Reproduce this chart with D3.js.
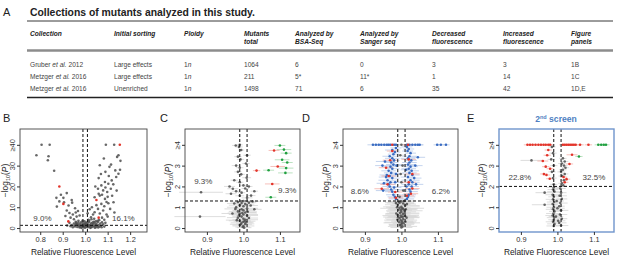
<!DOCTYPE html>
<html>
<head>
<meta charset="utf-8">
<script src="https://cdn.jsdelivr.net/npm/d3@7"></script>
<style>
  body { margin: 0; background: #fff; }
  svg { font-family: "Liberation Sans", Arial, sans-serif; }
  .hdr { font-size: 6.6px; font-weight: bold; font-style: italic; fill: #222; }
  .cell { font-size: 6.6px; fill: #444; }
  .tick text { font-size: 7.4px; fill: #333; }
  .tick line { stroke: #333; }
  .domain { display: none; }
  .pct { font-size: 8px; fill: #444; }
</style>
</head>
<body>
<script>
// TABLE DATA
const tableHeaders = [["Collection"], ["Initial sorting"], ["Ploidy"], ["Mutants", "total"],
  ["Analyzed by", "BSA-Seq"], ["Analyzed by", "Sanger seq"], ["Decreased", "fluorescence"],
  ["Increased", "fluorescence"], ["Figure", "panels"]]
const tableRows = [
  [["Gruber", "2012"], "Large effects", "1", "1064", "6", "0", "3", "3", "1B"],
  [["Metzger", "2016"], "Large effects", "1", "211", "5*", "11*", "1", "14", "1C"],
  [["Metzger", "2016"], "Unenriched", "1", "1498", "71", "6", "35", "42", "1D,E"]
]

// PANEL DATA  [relative fluorescence, -log10(P), half width of error bar]
const bGray = [[0.806,40],[0.842,40],[1.092,40],[1.129,40],
  [0.783,35],[0.837,34.5],[0.834,32.6],[0.862,27.5],[0.872,14.5],[0.892,16],[0.903,14.5],[0.918,16.8],
  [0.885,12.8],[0.906,12.4],[0.874,10.3],[0.94,13.5],[0.926,10.8],[0.942,12.2],[0.918,8.4],[0.955,9.5],
  [0.93,7.2],[0.945,6.5],[0.958,7.5],[0.935,5],[0.95,4.2],[0.912,5.8],[0.962,5.5],[0.968,8.2],[0.97,3.5],
  [0.96,2.5],[0.975,6],
  [1.083,33.4],[1.065,30.2],[1.108,29.4],[1.142,34.2],[1.157,32.3],[1.148,35],[1.134,27.7],[1.148,26.1],
  [1.138,24.5],[1.118,22.9],[1.103,21.3],[1.088,22.1],[1.072,20.5],[1.057,18.9],[1.08,18.1],[1.098,17.3],
  [1.114,18.9],[1.065,15.6],[1.042,14.8],[1.088,14],[1.072,11.6],[1.103,11.9],[1.126,12.4],[1.057,9.2],
  [1.08,8.4],[1.111,9.2],[1.042,7.6],[1.095,6.5],[1.026,5.2],[1.011,7.1],[1.03,10],[1.05,11],[1.06,16.5],
  [1.075,16],[1.09,19.5],[1.1,15],[1.12,15.5],[1.085,10.5],[1.095,12.5],[1.065,7],[1.075,5],[1.085,4],
  [1.1,5.5],[1.04,4.5],[1.055,3.5],[1.035,6.5],[1.02,9],[1.015,4],[1.13,7.5],[1.045,20],[1.06,24],
  [1.07,26],[1.115,30.5],[1.125,21],[1.14,18],[1.155,28],[1.105,25],[1.09,27],
  [0.94,1.5],[0.95,2.2],[0.955,0.8],[0.96,1.8],[0.965,0.5],[0.97,2.6],[0.972,1.2],[0.975,0.3],[0.978,1.9],
  [0.98,0.9],[0.982,2.8],[0.985,0.4],[0.987,1.5],[0.99,2.3],[0.992,0.7],[0.995,1.1],[0.997,3.2],[1.0,0.2],
  [1.0,1.7],[1.002,2.5],[1.005,0.6],[1.007,1.3],[1.01,2.0],[1.012,0.4],[1.015,1.0],[1.017,2.9],[1.02,0.8],
  [1.022,1.6],[1.025,0.3],[1.027,2.3],[1.03,1.2],[1.032,0.5],[1.035,1.9],[1.038,3.0],[1.04,0.9],[1.042,2.5],
  [1.045,1.4],[1.048,0.4],[1.05,2.0],[1.053,1.0],[1.056,2.9],[1.06,1.5],[1.063,0.6],[1.067,2.2],[1.07,1.1],
  [1.075,2.8],[0.945,0.4],[0.958,3.0],[0.968,1.5],[0.983,0.1],[0.993,0.3],[1.003,0.9],[1.013,1.6],
  [1.023,0.1],[1.033,2.7],[1.043,0.2],[1.058,0.3],[1.073,0.4],[0.935,0.9],[0.93,2.5],[0.952,1.2],
  [0.963,2.1],[0.988,3.5],[1.018,3.5],[1.028,4.2],[1.008,2.7],[0.998,2.0],[0.976,0.7],[1.047,3.3],
  [1.062,3.8],[1.08,1.8],[1.085,0.7],[0.92,1.2],[1.09,2.5]]
const bRed = [[1.154,40],[0.885,20],[0.903,11.6],[0.925,3.2],[1.05,13.5],[1.06,5]]

const cGray = [[0.979,3.97,0.01],[0.988,3.9,0.01],[0.994,3.75,0.008],[0.985,3.43,0.01],[0.992,3.3,0.01],
  [0.98,3.0,0.012],[0.99,2.9,0.01],[0.994,2.58,0.01],[1.007,3.1,0.01],[1.009,2.42,0.012],[0.985,2.7,0.01],
  [0.99,2.2,0.01],[0.962,2.0,0.015],[0.971,1.89,0.015],[0.98,1.77,0.012],[0.966,1.65,0.015],[1.03,1.77,0.01],
  [1.021,1.56,0.012],[1.0,2.05,0.01],[1.005,1.9,0.01],[0.995,1.7,0.01],[0.99,1.55,0.012],[1.01,1.45,0.015],
  [0.884,1.72,0.06],[0.881,0.55,0.07],[0.99,4.0,0.008],[1.01,3.5,0.01],[1.015,2.0,0.01],[0.975,2.3,0.01],
  [0.985,1.25,0.02],[0.995,1.2,0.02],[1.005,1.15,0.025],[1.015,1.22,0.02],[0.99,1.1,0.03],[1.0,1.05,0.02],
  [0.98,1.0,0.025],[1.01,0.95,0.03],[0.995,0.9,0.02],[1.0,0.85,0.03],[0.985,0.8,0.025],[1.005,0.75,0.03],
  [0.99,0.7,0.02],[1.0,0.65,0.04],[1.01,0.6,0.03],[0.995,0.55,0.025],[0.985,0.5,0.03],[1.0,0.45,0.02],
  [1.005,0.4,0.035],[0.99,0.35,0.03],[1.0,0.3,0.02],[0.995,0.25,0.03],[1.005,0.2,0.025],[0.99,0.15,0.02],
  [1.0,0.1,0.03],[0.998,0.05,0.02],[1.002,0.02,0.02],[0.993,0.18,0.03],[1.008,0.28,0.02],[0.988,0.62,0.02],
  [1.012,0.78,0.025],[0.978,0.92,0.03],[1.02,1.08,0.02],[0.975,1.18,0.02],[1.025,1.28,0.02],[0.982,0.38,0.03],
  [1.015,0.48,0.025],[0.97,0.7,0.03],[1.03,0.9,0.02],[1.0,1.3,0.02],[0.997,0.72,0.04],[1.003,0.33,0.03]]
const cRed = [[1.084,3.73,0.015],[1.094,2.96,0.02],[1.036,2.76,0.01],[1.079,2.12,0.02]]
const cGreen = [[1.1,3.97,0.015],[1.111,3.77,0.02],[1.117,3.6,0.015],[1.106,3.28,0.02],[1.12,3.15,0.015],
  [1.117,2.88,0.02],[1.115,2.65,0.02],[1.069,2.78,0.015],[1.075,1.48,0.015]]

const dGray = [[1.0,1.28,0.03],[0.995,1.22,0.04],[1.005,1.18,0.03],[0.99,1.12,0.035],[1.01,1.08,0.04],
  [1.0,1.02,0.05],[0.995,0.97,0.03],[1.005,0.92,0.04],[0.992,0.88,0.03],[1.008,0.83,0.05],[1.0,0.78,0.04],
  [0.996,0.73,0.03],[1.004,0.68,0.045],[0.99,0.63,0.035],[1.01,0.58,0.03],[1.0,0.53,0.05],[0.995,0.48,0.04],
  [1.005,0.43,0.03],[0.998,0.38,0.045],[1.002,0.33,0.03],[0.994,0.28,0.04],[1.006,0.23,0.03],[1.0,0.18,0.035],
  [0.997,0.13,0.03],[1.003,0.08,0.04],[1.0,0.03,0.03],[0.988,1.0,0.03],[1.012,0.9,0.03],[0.986,0.7,0.03],
  [1.014,0.5,0.035],[0.989,0.4,0.03],[1.011,0.3,0.03],[0.993,1.25,0.03],[1.007,1.3,0.03],[0.985,1.2,0.025],
  [1.015,1.15,0.025],[0.998,0.6,0.05],[1.002,0.95,0.06],[0.996,0.15,0.03],[1.004,0.55,0.04],[0.991,0.52,0.03],
  [1.009,0.72,0.04],[0.999,0.86,0.03],[1.001,0.25,0.05],
  [0.995,1.5,0.01],[1.005,1.8,0.01],[1.0,2.2,0.01],[0.998,2.6,0.01],[1.003,3.0,0.01],[0.997,3.5,0.01],[1.0,4.0,0.01]]
const dBlue = [[0.922,4,0.015],[0.93,4,0.01],[0.938,4,0.015],[0.945,4,0.01],[0.953,4,0.015],[0.96,4,0.01],
  [0.965,4,0.01],[0.97,4,0.015],[0.98,4,0.01],[0.985,4,0.01],[1.015,4,0.01],[1.022,4,0.01],[1.03,4,0.015],
  [1.038,4,0.01],[1.045,4,0.015],[1.05,4,0.01],[1.098,4,0.01],[1.108,4,0.01],[1.122,4,0.01],
  [0.985,1.4,0.02],[0.982,1.5,0.02],[0.978,1.6,0.02],[0.975,1.75,0.02],[0.972,1.85,0.025],[0.968,2.0,0.02],
  [0.965,2.1,0.02],[0.97,2.2,0.02],[0.962,2.3,0.025],[0.975,2.4,0.02],[0.968,2.5,0.02],[0.96,2.55,0.02],
  [0.972,2.65,0.02],[0.965,2.75,0.02],[0.975,2.85,0.02],[0.97,2.95,0.02],[0.978,3.05,0.02],[0.972,3.15,0.02],
  [0.98,3.25,0.015],[0.975,3.35,0.02],[0.968,3.45,0.02],[0.978,3.55,0.015],[0.982,3.65,0.015],[0.975,3.75,0.02],
  [0.985,3.85,0.015],[0.952,2.15,0.02],[0.958,2.45,0.02],[0.948,3.0,0.02],[0.955,3.2,0.025],[0.98,1.95,0.02],
  [0.983,2.2,0.02],[0.985,2.6,0.015],[0.987,3.0,0.015],[0.95,1.8,0.02],
  [1.015,1.4,0.02],[1.018,1.5,0.02],[1.02,1.6,0.02],[1.025,1.75,0.02],[1.022,1.85,0.025],[1.028,2.0,0.02],
  [1.02,2.1,0.02],[1.03,2.2,0.02],[1.025,2.3,0.025],[1.018,2.45,0.02],[1.03,2.55,0.02],[1.022,2.65,0.02],
  [1.028,2.75,0.02],[1.02,2.85,0.02],[1.025,2.95,0.02],[1.018,3.05,0.02],[1.022,3.15,0.02],[1.027,3.25,0.015],
  [1.018,3.35,0.02],[1.022,3.45,0.02],[1.025,3.6,0.015],[1.017,3.7,0.015],[1.02,3.8,0.015],[1.015,3.9,0.015],
  [1.035,2.4,0.02],[1.04,2.1,0.02],[1.038,3.0,0.02],[1.014,2.0,0.02],[1.013,2.8,0.015],[1.045,3.4,0.02]]
const dRed = [[0.946,1.89,0.02],[0.958,2.9,0.02],[0.983,1.73,0.02],[1.026,1.65,0.02],[1.02,2.2,0.02],
  [1.03,2.6,0.02],[0.969,3.26,0.02],[0.975,4,0.015],[1.018,4,0.015],[0.962,2.1,0.02],[0.985,1.45,0.02],
  [1.015,1.55,0.02],[1.03,1.9,0.02],[0.975,3.7,0.015],[1.02,3.3,0.02],[0.965,2.5,0.02]]

const eGray = [[0.929,3.25,0.03],[1.015,3.35,0.01],[1.02,3.2,0.01],[1.012,3.1,0.01],[1.018,3.0,0.01],
  [1.022,2.9,0.01],[1.015,2.8,0.01],[1.01,2.7,0.01],[1.02,2.6,0.01],[1.013,2.5,0.01],[1.018,2.3,0.01],
  [1.012,2.15,0.01],[1.016,2.05,0.01],[0.985,3.9,0.01],[0.988,3.6,0.01],[0.983,3.3,0.01],[0.99,3.0,0.01],
  [0.985,2.7,0.01],[0.988,2.4,0.01],[0.99,2.1,0.01],
  [0.99,1.95,0.02],[0.988,1.85,0.015],[0.992,1.75,0.02],[0.987,1.6,0.02],[0.99,1.5,0.015],[0.988,1.38,0.02],
  [0.991,1.25,0.02],[0.987,1.15,0.015],[0.99,1.0,0.02],[0.988,0.9,0.02],[0.992,0.8,0.015],[0.989,0.7,0.02],
  [0.987,0.6,0.02],[0.991,0.5,0.02],[0.99,0.4,0.015],[0.988,0.3,0.02],[0.992,0.2,0.02],[0.99,0.1,0.02],
  [1.008,1.9,0.015],[1.01,1.7,0.015],[1.006,1.55,0.02],[1.012,1.4,0.015],[1.008,1.2,0.02],[1.005,1.05,0.015],
  [1.01,0.85,0.02],[1.007,0.65,0.02],[1.012,0.45,0.015],[1.005,0.25,0.02],[1.01,0.12,0.02],[0.998,1.3,0.02],
  [1.0,0.95,0.02],[0.996,0.55,0.02],[1.002,0.35,0.02],[0.965,1.7,0.025],[0.965,1.12,0.035]]
const eRed = [[0.918,4,0.01],[0.925,4,0.01],[0.932,4,0.01],[0.94,4,0.01],[0.948,4,0.01],[0.955,4,0.01],
  [0.962,4,0.01],[0.968,4,0.01],[0.975,4,0.01],[0.98,4,0.01],[1.015,4,0.01],[1.02,4,0.01],[1.025,4,0.01],
  [1.03,4,0.01],[1.035,4,0.01],[1.04,4,0.01],[1.045,4,0.01],[1.05,4,0.01],[1.062,4,0.01],[1.085,4,0.01],
  [1.04,3.52,0.015],[1.033,3.08,0.01],[0.96,3.22,0.015],[0.972,3.5,0.01],[0.963,2.6,0.01],[0.97,2.55,0.01],
  [0.98,2.85,0.01],[0.979,2.37,0.01],[1.017,2.45,0.01],[1.02,2.2,0.01],[0.975,3.75,0.01],[0.968,2.95,0.01],
  [1.025,2.35,0.01]]
const eGreen = [[1.112,4,0.01],[1.12,4,0.01],[1.127,4,0.01],[1.133,4,0.01],[1.059,3.44,0.01]]

const pctLabels = { B: ["9.0%", "16.1%"], C: ["9.3%", "9.3%"], D: ["8.6%", "6.2%"], E: ["22.8%", "32.5%"] }
const xTicksB = [0.8, 0.9, 1.0, 1.1, 1.2]
const xTicksCDE = [0.9, 1.0, 1.1]
const yTicksB = [0, 10, 20, 30, 40]
const yTicksCDE = [0, 1, 2, 3, 4]

// COLOURS
const COL = { gray: "#4d4d4d", red: "#e3342a", green: "#20a040", blue: "#3a6cc2" }
const BAR = { gray: "#d4d4d4", red: "#f4b0a8", green: "#a9dbb1", blue: "#b6c9ea" }

const W = 617, H = 259
const svg = d3.select("body").append("svg").attr("width", W).attr("height", H)

// ---------- TABLE ----------
const colX = [30, 114, 184, 244, 295, 360, 432, 503, 571]
const TBL = { left: 27, right: 613, top: 21, hdr1: 36, hdr2: 44, grey: 50.5, rows: [66.5, 78.5, 90.5], bottom: 97.5 }

svg.append("text").text("A").attr("x", 3).attr("y", 16).style("font-size", "11px").attr("fill", "#222")
svg.append("text").text("Collections of mutants analyzed in this study.")
  .attr("x", 30).attr("y", 16).style("font-size", "10.4px").style("font-weight", "bold").attr("fill", "#222")

svg.append("line").attr("x1", TBL.left).attr("x2", TBL.right).attr("y1", TBL.top).attr("y2", TBL.top)
  .attr("stroke", "#222").attr("stroke-width", 0.9)
svg.append("line").attr("x1", TBL.left).attr("x2", TBL.right).attr("y1", TBL.grey).attr("y2", TBL.grey)
  .attr("stroke", "#8c8c8c").attr("stroke-width", 2.6)
svg.append("line").attr("x1", TBL.left).attr("x2", TBL.right).attr("y1", TBL.bottom).attr("y2", TBL.bottom)
  .attr("stroke", "#222").attr("stroke-width", 1.3)

tableHeaders.forEach((h, i) => {
  h.forEach((line, j) => {
    svg.append("text").attr("class", "hdr").attr("x", colX[i]).attr("y", j == 0 ? TBL.hdr1 : TBL.hdr2).text(line)
  })
})

tableRows.forEach((row, r) => {
  const y = TBL.rows[r]
  row.forEach((v, i) => {
    const t = svg.append("text").attr("class", "cell").attr("x", colX[i]).attr("y", y)
    if (i == 0) {
      t.append("tspan").text(v[0] + "  ")
      t.append("tspan").text("et al.").style("font-style", "italic")
      t.append("tspan").text("  " + v[1])
    } else if (i == 2) {
      t.append("tspan").text(v)
      t.append("tspan").text("n").style("font-style", "italic")
    } else t.text(v)
  })
})

// ---------- PANELS ----------
const FRAME = { top: 129, bottom: 232 }
const panels = [
  { id: "B", left: 20, right: 147, letterX: 3, titleX: 8, xDomain: [0.71, 1.275], yDomain: [-1.9, 47.6],
    xTicks: xTicksB, yTicks: yTicksB, top: "≥40", hLine: 1.3,
    pctPos: [[0.81, 4.8], [1.17, 4.8]],
    layers: [{ data: bGray, c: "gray" }, { data: bRed, c: "red" }] },
  { id: "C", left: 185, right: 300, letterX: 160, titleX: 171, xDomain: [0.84, 1.155], yDomain: [-0.19, 4.76],
    xTicks: xTicksCDE, yTicks: yTicksCDE, top: "≥4", hLine: 1.3,
    pctPos: [[0.89, 2.24], [1.12, 1.8]],
    layers: [{ data: cGray, c: "gray" }, { data: cRed, c: "red" }, { data: cGreen, c: "green" }] },
  { id: "D", left: 343, right: 458, letterX: 302, titleX: 329, xDomain: [0.84, 1.155], yDomain: [-0.19, 4.76],
    xTicks: xTicksCDE, yTicks: yTicksCDE, top: "≥4", hLine: 1.3,
    pctPos: [[0.886, 1.78], [1.108, 1.78]],
    layers: [{ data: dGray, c: "gray" }, { data: dBlue, c: "blue" }, { data: dRed, c: "red" }] },
  { id: "E", left: 499, right: 614, letterX: 467, titleX: 485, xDomain: [0.84, 1.155], yDomain: [-0.19, 4.76],
    xTicks: xTicksCDE, yTicks: yTicksCDE, top: "≥4", hLine: 2.0, frame: "#6f95cc",
    pctPos: [[0.897, 2.45], [1.1, 2.45]],
    layers: [{ data: eGray, c: "gray" }, { data: eRed, c: "red" }, { data: eGreen, c: "green" }] }
]

panels.forEach(drawPanel)

function drawPanel(p) {
  const x = d3.scaleLinear().domain(p.xDomain).range([p.left, p.right])
  const y = d3.scaleLinear().domain(p.yDomain).range([FRAME.bottom, FRAME.top])
  const g = svg.append("g").attr("class", "panel-" + p.id)

  svg.append("text").text(p.id).attr("x", p.letterX).attr("y", 122).style("font-size", "11px").attr("fill", "#222")

  // error bars first, then points
  p.layers.forEach(l => {
    g.append("g").selectAll("line").data(l.data.filter(d => d[2])).join("line")
      .attr("x1", d => x(d[0] - d[2])).attr("x2", d => x(d[0] + d[2]))
      .attr("y1", d => y(d[1])).attr("y2", d => y(d[1]))
      .attr("stroke", BAR[l.c]).attr("stroke-width", 0.8)
  })
  p.layers.forEach(l => {
    g.append("g").selectAll("circle").data(l.data).join("circle")
      .attr("cx", d => x(d[0])).attr("cy", d => y(d[1])).attr("r", 1.3)
      .attr("fill", COL[l.c]).attr("fill-opacity", l.c == "gray" ? 0.85 : 1)
  })

  // thresholds
  const dash = "3,2"
  ;[0.99, 1.01].forEach(v => g.append("line").attr("x1", x(v)).attr("x2", x(v))
    .attr("y1", FRAME.top).attr("y2", FRAME.bottom).attr("stroke", "#111").attr("stroke-dasharray", dash))
  g.append("line").attr("x1", p.left).attr("x2", p.right).attr("y1", y(p.hLine)).attr("y2", y(p.hLine))
    .attr("stroke", "#111").attr("stroke-dasharray", dash)

  pctLabels[p.id].forEach((t, i) => {
    g.append("text").attr("class", "pct").attr("x", x(p.pctPos[i][0])).attr("y", y(p.pctPos[i][1]))
      .attr("text-anchor", "middle").attr("dy", "0.35em").text(t)
  })

  // frame
  g.append("rect").attr("x", p.left).attr("y", FRAME.top)
    .attr("width", p.right - p.left).attr("height", FRAME.bottom - FRAME.top)
    .attr("fill", "none").attr("stroke", p.frame || "#444").attr("stroke-width", p.frame ? 1.4 : 0.9)

  // axes
  svg.append("g").attr("transform", `translate(0,${FRAME.bottom})`)
    .call(d3.axisBottom(x).tickValues(p.xTicks).tickSize(3).tickPadding(2).tickFormat(d3.format(".1f")))
  const last = p.yTicks[p.yTicks.length - 1]
  const gy = svg.append("g").attr("transform", `translate(${p.left},0)`)
    .call(d3.axisLeft(y).tickValues(p.yTicks).tickSize(3).tickFormat(d => d == last ? p.top : d))
  gy.selectAll("text").attr("x", 0).attr("dy", 0).attr("y", -5)
    .attr("transform", "rotate(-90)").attr("text-anchor", "middle")

  svg.append("text").text("Relative Fluorescence Level")
    .attr("x", (p.left + p.right) / 2).attr("y", 255).attr("text-anchor", "middle")
    .style("font-size", "8.4px").attr("fill", "#222")

  const yt = svg.append("text").attr("transform", `translate(${p.titleX},${(FRAME.top + FRAME.bottom) / 2}) rotate(-90)`)
    .attr("text-anchor", "middle").style("font-size", "8.4px").attr("fill", "#222")
  yt.append("tspan").text("\u2212log")
  yt.append("tspan").text("10").style("font-size", "5.5px").attr("dy", 2)
  yt.append("tspan").text("(").attr("dy", -2)
  yt.append("tspan").text("P").style("font-style", "italic")
  yt.append("tspan").text(")")
}

// second screen title
const st = svg.append("text").attr("x", 556).attr("y", 122).attr("text-anchor", "middle")
  .style("font-size", "8.6px").style("font-weight", "bold").attr("fill", "#4f7fc2")
st.append("tspan").text("2")
st.append("tspan").text("nd").style("font-size", "5.5px").attr("dy", -3)
st.append("tspan").text(" screen").attr("dy", 3)
</script>
</body>
</html>
